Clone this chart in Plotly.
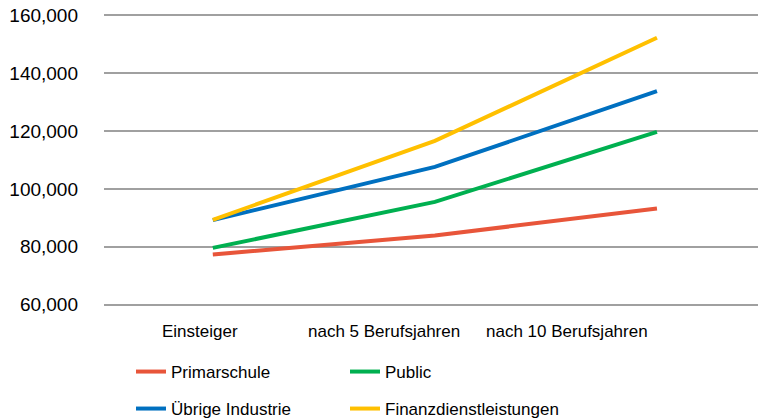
"""Salary development by sector, recreated with Plotly."""

import plotly.graph_objects as go

categories = ["Einsteiger", "nach 5 Berufsjahren", "nach 10 Berufsjahren"]

primarschule = [77300, 83900, 93200]
public = [79600, 95500, 119700]
uebrige_industrie = [89200, 107600, 133800]
finanzdienstleistungen = [89300, 116600, 152300]

series = [
    ("Primarschule", primarschule, "#E8553A", "legend"),
    ("Public", public, "#00B050", "legend"),
    ("Übrige Industrie", uebrige_industrie, "#0070C0", "legend2"),
    ("Finanzdienstleistungen", finanzdienstleistungen, "#FFC000", "legend2"),
]

FONT = "Liberation Sans, Arial, sans-serif"
x_idx = list(range(len(categories)))

fig = go.Figure()
for name, values, color, legend in series:
    fig.add_trace(
        go.Scatter(
            x=x_idx,
            y=values,
            name=name,
            mode="lines",
            line={"color": color, "width": 4},
            legend=legend,
        )
    )

# category labels sit a little left of their points, as in the source
label_shift = [-13, -51, -90]
for i, label in enumerate(categories):
    fig.add_annotation(
        x=i, y=0, xref="x", yref="paper",
        text=label, showarrow=False,
        xshift=label_shift[i], yshift=-25,
        yanchor="middle",
        font={"family": FONT, "size": 17, "color": "#000000"},
    )

legend_style = dict(
    orientation="h",
    xref="container", yref="container",
    xanchor="left", yanchor="middle",
    entrywidth=169, entrywidthmode="pixels",
    font={"family": FONT, "size": 17, "color": "#000000"},
    bgcolor="rgba(0,0,0,0)",
    itemclick=False,
)

fig.update_layout(
    width=758,
    height=418,
    margin={"l": 104, "r": 0, "t": 14, "b": 111.5},
    paper_bgcolor="white",
    plot_bgcolor="white",
    showlegend=True,
    legend=dict(legend_style, x=131 / 758, y=1 - 372 / 418),
    legend2=dict(legend_style, x=131 / 758, y=1 - 409 / 418),
    xaxis={
        "range": [-0.49, 2.455],
        "showgrid": False,
        "showticklabels": False,
        "zeroline": False,
        "showline": False,
        "fixedrange": True,
    },
    yaxis={
        "range": [59500, 160500],
        "tickvals": [60000, 80000, 100000, 120000, 140000, 160000],
        "tickformat": ",d",
        "showgrid": True,
        "gridcolor": "#A0A0A0",
        "gridwidth": 1.5,
        "zeroline": False,
        "showline": False,
        "ticks": "",
        "ticklabelstandoff": 25,
        "tickfont": {"family": FONT, "size": 19, "color": "#000000"},
        "fixedrange": True,
    },
)

# the page's default body margin would shift the chart by 8px
fig.write_html(
    "out.html",
    config={"displayModeBar": False},
    post_script="document.body.style.margin = '0';",
)
